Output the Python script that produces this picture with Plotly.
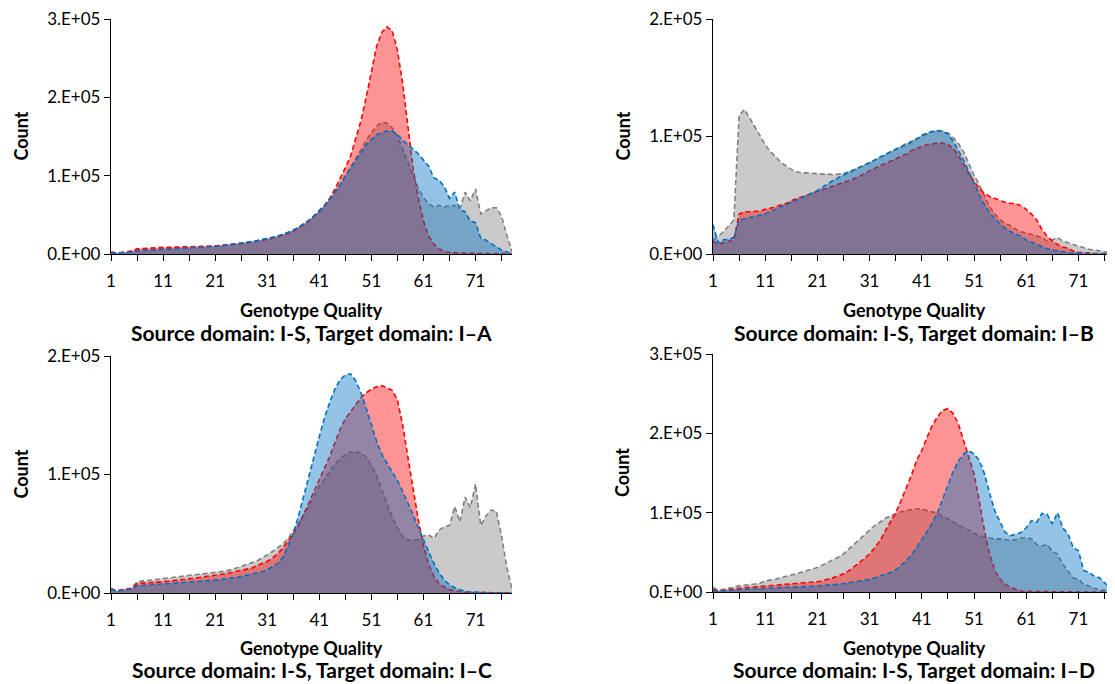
import plotly.graph_objects as go

gq = list(range(1, 79))

red_A = [2500, 1500, 2000, 2500, 4000, 6500, 7000, 7500, 8000, 8200,
         8400, 8500, 8600, 8700, 8800, 8900, 9000, 9300, 9600, 10000,
         10300, 10800, 11300, 11800, 12400, 13000, 14000, 15000, 16000, 17300,
         18500, 20000, 22000, 24000, 26500, 29000, 33000, 37000, 42000, 48000,
         54000, 62000, 71000, 83000, 96000, 110000, 125000, 146000, 170000, 200000,
         235000, 265000, 283000, 290000, 285000, 260000, 218000, 160000, 110000, 72000,
         42000, 23000, 12500, 6500, 3500, 2000, 1500, 1200, 1000, 900,
         800, 700, 600, 500, 400, 300, 200, 100]
blue_A = [1000, 1000, 1500, 2000, 3000, 4000, 4300, 4600, 5000, 5200,
          5500, 5800, 6000, 6300, 6600, 7000, 7400, 8000, 8600, 9000,
          9500, 10200, 11000, 11800, 12600, 13500, 14500, 15800, 17000, 18300,
          19500, 21000, 22800, 25000, 27500, 30500, 34000, 38000, 43000, 49000,
          55000, 62000, 70000, 79000, 89000, 100000, 110000, 120000, 130000, 139000,
          146000, 152000, 155000, 157000, 157000, 153000, 145000, 140000, 134000, 128000,
          120000, 112000, 97000, 94000, 86000, 71000, 79000, 56000, 54000, 42000,
          40000, 20000, 17500, 13000, 9000, 5000, 2500, 800]
gray_A = [2000, 1200, 1800, 2200, 3500, 5500, 6000, 6400, 6800, 7000,
          7200, 7400, 7600, 7800, 8000, 8300, 8600, 9000, 9400, 9800,
          10200, 10800, 11400, 12000, 12800, 13600, 14600, 15700, 16900, 18200,
          19500, 21000, 23000, 25000, 27500, 30500, 34000, 38000, 43000, 48500,
          54500, 61000, 69000, 78000, 88000, 99000, 110000, 121000, 133000, 145000,
          155000, 163000, 168000, 167000, 161000, 150000, 134000, 117000, 100000, 84000,
          72000, 64000, 60000, 62000, 60000, 62000, 62000, 58000, 79000, 68000,
          83000, 51000, 55000, 59000, 59000, 48000, 24000, 3000]

red_B = [11000, 8000, 9500, 11000, 12000, 34000, 36000, 36000, 36000, 36500,
         38000, 39000, 40000, 42000, 43000, 45500, 47000, 49000, 50500, 52000,
         53000, 54500, 56000, 58000, 59500, 61000, 62500, 64000, 66000, 68500,
         71000, 73000, 75000, 77000, 79000, 81000, 83000, 85000, 88000, 90000,
         91500, 93000, 94000, 94500, 94500, 93000, 90000, 84000, 76000, 68500,
         61500, 56000, 51500, 49000, 47000, 45500, 44000, 43000, 43000, 41000,
         38000, 34000, 29000, 21000, 15000, 11000, 8000, 6000, 5000, 2500,
         1500, 1000, 700, 500, 400, 300, 200, 100]
blue_B = [25000, 9500, 12000, 12500, 14000, 29000, 30000, 31000, 31500, 32500,
          34000, 36000, 38000, 40000, 42000, 44000, 46000, 48000, 50000, 52000,
          54000, 57000, 60000, 62500, 65000, 67500, 69500, 71500, 73500, 75500,
          77500, 80000, 82500, 85000, 87000, 89000, 91000, 93000, 95000, 98000,
          101000, 103000, 104500, 105000, 104500, 102000, 96000, 88000, 80000, 70000,
          60000, 50000, 42000, 35000, 30000, 25500, 22000, 19000, 17000, 15000,
          12000, 10000, 8000, 6000, 4500, 3400, 2500, 1800, 1200, 800,
          500, 400, 300, 200, 150, 100, 50, 0]
gray_B = [12000, 15000, 19000, 24000, 29000, 118000, 123000, 116000, 108000, 101000,
          93000, 87000, 83000, 78000, 75000, 72000, 70000, 69000, 69000, 68500,
          68500, 68000, 68000, 67500, 68000, 68500, 70000, 71500, 73500, 75500,
          78000, 80000, 82000, 84500, 87000, 89500, 92000, 94000, 96000, 98000,
          100500, 102500, 104000, 104500, 104500, 103000, 99000, 94000, 87000, 77000,
          67000, 59000, 49000, 40000, 34000, 29000, 26000, 24000, 21000, 19000,
          18000, 16500, 15000, 14000, 11000, 12000, 14000, 11000, 9500, 8000,
          7000, 5000, 4000, 3400, 2500, 1700, 800, 300]

red_C = [3400, 1600, 2500, 3100, 3700, 8000, 8200, 8400, 8800, 9300,
         9600, 10000, 10400, 10700, 11000, 12000, 12500, 13000, 13500, 14000,
         15000, 15600, 16300, 17200, 18000, 19000, 20000, 21000, 23000, 24700,
         26700, 29500, 33000, 38000, 43500, 50000, 57000, 66000, 76000, 86000,
         96000, 105000, 115000, 127000, 138000, 147000, 153000, 160000, 165000, 169000,
         172000, 174000, 175000, 173000, 171000, 163000, 142000, 115000, 87000, 62000,
         40000, 24000, 14000, 8000, 5000, 3000, 1700, 1000, 600, 500,
         400, 300, 250, 200, 150, 100, 50, 0]
blue_C = [3400, 1400, 2200, 2800, 3200, 6000, 6500, 7000, 7200, 7300,
          7600, 7800, 8000, 8300, 8700, 9000, 9200, 9500, 9800, 10000,
          10700, 11200, 12000, 12400, 13000, 14000, 15000, 16000, 17000, 18000,
          19700, 22000, 25000, 30000, 40000, 50000, 65000, 82000, 100000, 117000,
          132000, 148000, 161000, 172000, 180000, 184000, 185000, 179000, 169000, 156000,
          142000, 128000, 117000, 109000, 102000, 95000, 86000, 76000, 66000, 55000,
          45000, 35000, 25000, 17000, 11000, 7000, 4500, 2800, 1500, 900,
          500, 400, 300, 200, 150, 100, 50, 0]
gray_C = [4000, 1700, 2800, 3400, 4200, 9500, 10000, 10700, 11000, 11500,
          12000, 12400, 13000, 13500, 14000, 14500, 15000, 15500, 16000, 16500,
          17000, 17800, 18500, 19500, 21000, 22000, 23500, 25000, 27000, 29500,
          32000, 35000, 38000, 41500, 46000, 52000, 59000, 66000, 73000, 81500,
          90000, 96000, 103000, 109000, 113000, 117000, 119000, 119000, 118000, 115000,
          108000, 99000, 87000, 75000, 64000, 55000, 48000, 45000, 44000, 45000,
          48000, 49000, 46000, 53000, 56000, 57000, 73000, 60000, 81000, 72000,
          92000, 57000, 65000, 70000, 69000, 48000, 22000, 3000]

red_D = [3000, 1500, 2000, 3000, 4000, 5000, 5500, 6000, 6500, 7000,
         7600, 8000, 8400, 8900, 9300, 9700, 10500, 11000, 11800, 12200,
         13000, 14300, 16000, 18000, 20000, 23000, 26600, 31600, 37000, 42600,
         47700, 56000, 64600, 77000, 88000, 100000, 115000, 130000, 147000, 166000,
         178500, 195000, 210000, 220700, 229000, 231000, 225000, 212000, 191000, 170000,
         149000, 115000, 77000, 47700, 26600, 16000, 9700, 5500, 3000, 1300,
         800, 600, 500, 400, 300, 250, 200, 150, 100, 100,
         50, 50, 50, 0, 0, 0, 0, 0]
blue_D = [1500, 1000, 1500, 2000, 2500, 3400, 3700, 4000, 4200, 4400,
          4600, 4800, 5000, 5200, 5400, 5500, 5800, 6200, 6700, 7100,
          7600, 8000, 8500, 9000, 9700, 10500, 11500, 12500, 13700, 14800,
          16000, 18000, 20000, 22000, 24500, 28000, 33000, 39000, 47000, 56000,
          66000, 76000, 87000, 100000, 118000, 136000, 152000, 165000, 174000, 178000,
          174000, 166000, 149000, 124000, 102000, 88000, 75000, 71000, 73000, 75000,
          81000, 90000, 88000, 99000, 98000, 86000, 100000, 81000, 73000, 56000,
          52000, 27000, 24500, 20000, 18000, 12000, 5500, 1300]
gray_D = [6000, 2000, 3500, 4500, 6000, 8000, 8500, 9300, 10000, 11000,
          14000, 15000, 16000, 18000, 19500, 21500, 23000, 25000, 27000, 29000,
          31000, 34000, 37000, 40500, 44000, 48000, 54000, 60000, 66000, 73000,
          79000, 84000, 88000, 93000, 96000, 99000, 101000, 103000, 104000, 104600,
          104500, 103000, 101000, 99000, 95500, 92000, 89000, 86000, 82000, 78000,
          74000, 71000, 69000, 68000, 67000, 67000, 66000, 65000, 66000, 68000,
          68000, 67000, 60000, 58000, 60000, 51500, 47700, 35000, 26600, 18000,
          16000, 9700, 7600, 4600, 3000, 2000, 1300, 400]

titles = ["Source domain: I-S, Target domain: I\u2013A",
          "Source domain: I-S, Target domain: I\u2013B",
          "Source domain: I-S, Target domain: I\u2013C",
          "Source domain: I-S, Target domain: I\u2013D"]
x_title = "Genotype Quality"
y_title = "Count"
xtick_vals = list(range(1, 78, 5))
xtick_text = [str(v) if (v - 1) % 10 == 0 else "" for v in xtick_vals]

panels = [
    dict(red=red_A, blue=blue_A, gray=gray_A, ymax=3e5),
    dict(red=red_B, blue=blue_B, gray=gray_B, ymax=2e5),
    dict(red=red_C, blue=blue_C, gray=gray_C, ymax=2e5),
    dict(red=red_D, blue=blue_D, gray=gray_D, ymax=3e5),
]

# the page body adds an 8px offset; lay out in screen coordinates minus that
OFF = 8
W, H = 1115 - OFF, 684 - OFF
# plot areas in screen pixels: (left, right, top, bottom)
areas = [(111.0, 512.0, 19, 254), (713, 1115, 19, 254),
         (111.0, 512.0, 356, 593), (713, 1115, 354, 592)]

FONT = "Lato, 'Open Sans', sans-serif"
fig = go.Figure()

styles = [
    ("gray", "rgba(128,128,128,0.42)", "#7F7F7F"),
    ("red", "rgba(255,0,0,0.42)", "#FF0000"),
    ("blue", "rgba(0,112,192,0.42)", "#0070C0"),
]


def px(v):
    return (v - OFF) / W


def py(v):
    return 1 - (v - OFF) / H


for i, p in enumerate(panels):
    xa = "x" if i == 0 else f"x{i+1}"
    ya = "y" if i == 0 else f"y{i+1}"
    for key, fillc, linec in styles:
        fig.add_trace(go.Scatter(
            x=gq, y=p[key], xaxis=xa, yaxis=ya, mode="lines",
            fill="tozeroy", fillcolor=fillc,
            line=dict(color=linec, width=1.6, dash="5px,3px"),
            showlegend=False, hoverinfo="skip"))
    l, r, t, b = areas[i]
    xdom = [px(l), min(px(r), 1.0)]
    ydom = [py(b), py(t)]
    n = int(round(p["ymax"] / 1e5))
    yvals = [k * 1e5 for k in range(n + 1)]
    ytext = ["0.E+00"] + [f"{k}.E+05" for k in range(1, n + 1)]
    suffix = "" if i == 0 else str(i + 1)
    fig.layout["xaxis" + suffix] = dict(
        domain=xdom, range=[1, 78], anchor=ya, tickmode="array",
        tickvals=xtick_vals, ticktext=xtick_text, ticks="outside",
        ticklen=6, tickwidth=1.2, tickcolor="black", showline=True,
        linecolor="black", linewidth=1.3, showgrid=False, zeroline=False,
        ticklabelstandoff=5, automargin=False, ticklabeloverflow="allow",
        tickfont=dict(family=FONT, size=17, color="black"))
    fig.layout["yaxis" + suffix] = dict(
        domain=ydom, range=[0, p["ymax"]], anchor=xa, tickmode="array",
        tickvals=yvals, ticktext=ytext, ticks="outside", ticklen=6,
        tickwidth=1.2, tickcolor="black", showline=True, linecolor="black",
        linewidth=1.3, showgrid=False, zeroline=False, automargin=False,
        ticklabeloverflow="allow",
        tickfont=dict(family=FONT, size=17, color="black"))
    cx = px((l + r) / 2)
    cy = py((t + b) / 2)
    count_x = px(20 if i in (0, 2) else 622)
    gq_y = py(310 if i < 2 else 648)
    title_y = py(332 if i < 2 else 669)
    fig.add_annotation(text=f"<b>{y_title}</b>", x=count_x, y=cy, xref="paper",
                       yref="paper", textangle=-90, showarrow=False,
                       xanchor="center", yanchor="middle",
                       font=dict(family=FONT, size=18, color="black"))
    fig.add_annotation(text=f"<b>{x_title}</b>", x=cx, y=gq_y, xref="paper",
                       yref="paper", showarrow=False,
                       xanchor="center", yanchor="middle",
                       font=dict(family=FONT, size=18, color="black"))
    fig.add_annotation(text=f"<b>{titles[i]}</b>", x=cx, y=title_y, xref="paper",
                       yref="paper", showarrow=False,
                       xanchor="center", yanchor="middle",
                       font=dict(family=FONT, size=21, color="black"))

fig.update_layout(width=W, height=H, margin=dict(l=0, r=0, t=0, b=0, autoexpand=False),
                  paper_bgcolor="white", plot_bgcolor="white",
                  font=dict(family=FONT, color="black"))
fig.write_html("out.html")
